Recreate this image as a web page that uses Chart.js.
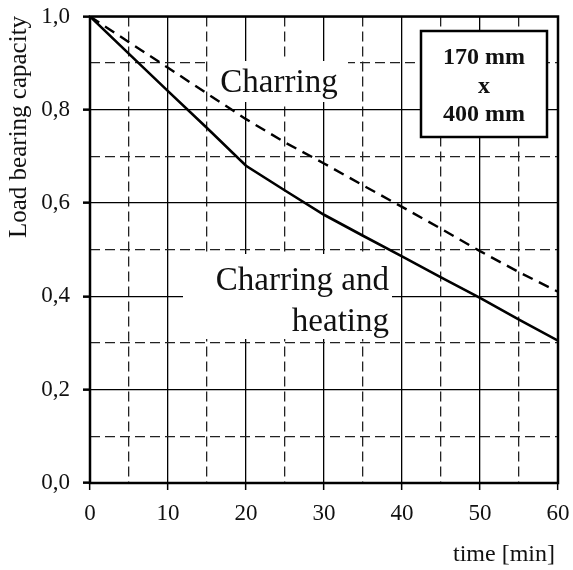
<!DOCTYPE html>
<html>
<head>
<meta charset="utf-8">
<script src="https://cdn.jsdelivr.net/npm/chart.js@4"></script>
<style>
  html, body { margin: 0; padding: 0; background: #fff; }
  #wrap { width: 573px; height: 570px; }
</style>
</head>
<body>
<div id="wrap"><canvas id="lbc"></canvas></div>
<script>
// data
const time = [0, 5, 10, 15, 20, 25, 30, 35, 40, 45, 50, 55, 60];
const charring = [1.0, 0.945, 0.89, 0.835, 0.78, 0.73, 0.685, 0.638, 0.592, 0.545, 0.497, 0.452, 0.41];
const charringHeating = [1.0, 0.92, 0.84, 0.761, 0.68, 0.627, 0.575, 0.53, 0.486, 0.441, 0.397, 0.35, 0.305];
const xTicks = [0, 10, 20, 30, 40, 50, 60];
const yTickLabels = ['0,0', '0,2', '0,4', '0,6', '0,8', '1,0'];
const sectionLines = ['170 mm', 'x', '400 mm'];

const serif = "'Liberation Serif', 'Times New Roman', serif";

function pts(ys) {
    var out = [];
    for (var i = 0; i < time.length; i++) {
        out.push({ x: time[i], y: ys[i] });
    }
    return out;
}

function isMajorX(v) { return Math.round(v) % 10 === 0; }
function isMajorY(v) { return Math.round(v * 10) % 2 === 0; }

// labels, white boxes, frame
const annotations = {
    id: 'annotations',
    beforeDatasetsDraw(chart) {
        const ctx = chart.ctx;
        ctx.save();
        ctx.fillStyle = '#fff';
        ctx.fillRect(210, 61, 138, 41);
        ctx.fillRect(183, 254, 209, 85);

        ctx.fillStyle = '#111';
        ctx.font = '33px ' + serif;
        ctx.textBaseline = 'alphabetic';
        ctx.textAlign = 'center';
        ctx.fillText('Charring', 279, 92);
        ctx.textAlign = 'right';
        ctx.fillText('Charring and', 389, 290);
        ctx.fillText('heating', 389, 331);
        ctx.restore();
    },
    afterDraw(chart) {
        const ctx = chart.ctx;
        const a = chart.chartArea;
        ctx.save();
        ctx.strokeStyle = '#000';
        ctx.lineWidth = 2.5;
        ctx.strokeRect(a.left, a.top, a.right - a.left, a.bottom - a.top);

        // section box
        ctx.fillStyle = '#fff';
        ctx.fillRect(421, 31, 126, 106);
        ctx.strokeRect(421, 31, 126, 106);
        ctx.fillStyle = '#111';
        ctx.font = 'bold 24px ' + serif;
        ctx.textAlign = 'center';
        ctx.textBaseline = 'alphabetic';
        ctx.fillText(sectionLines[0], 484, 64);
        ctx.fillText(sectionLines[1], 484, 93);
        ctx.fillText(sectionLines[2], 484, 121);

        // axis titles
        ctx.font = '24px ' + serif;
        ctx.textAlign = 'right';
        ctx.fillText('time [min]', 555, 561);
        ctx.translate(26, 238);
        ctx.rotate(-Math.PI / 2);
        ctx.textAlign = 'left';
        ctx.font = '25px ' + serif;
        ctx.fillText('Load bearing capacity', 0, 0);
        ctx.restore();
    }
};

const ctxLbc = document.getElementById('lbc').getContext('2d');
const lbcChart = new Chart(ctxLbc, {
    type: 'line',
    data: {
        datasets: [{
            label: 'Charring',
            data: pts(charring),
            borderColor: '#000',
            borderWidth: 2.4,
            borderDash: [11, 7],
            pointRadius: 0,
            tension: 0,
            fill: false
        }, {
            label: 'Charring and heating',
            data: pts(charringHeating),
            borderColor: '#000',
            borderWidth: 2.6,
            pointRadius: 0,
            tension: 0,
            fill: false
        }]
    },
    options: {
        responsive: true,
        maintainAspectRatio: false,
        animation: false,
        events: [],
        layout: { padding: { top: 16.5, right: 15, left: 0, bottom: 0 } },
        plugins: {
            legend: { display: false },
            tooltip: { enabled: false }
        },
        scales: {
            x: {
                type: 'linear',
                min: 0,
                max: 60,
                afterFit: (s) => {
                    s.height = 87;
                    s.paddingLeft = 0;
                    s.paddingRight = 0;
                },
                ticks: {
                    stepSize: 5,
                    autoSkip: false,
                    maxRotation: 0,
                    padding: 10,
                    color: '#111',
                    font: { family: serif, size: 23 },
                    callback: (v) => xTicks.indexOf(v) >= 0 ? String(v) : ''
                },
                grid: {
                    color: (c) => isMajorX(c.tick.value) ? '#000' : '#222',
                    lineWidth: 1.3,
                    tickLength: 7,
                    tickWidth: 1.5,
                    tickColor: (c) => isMajorX(c.tick.value) ? '#000' : 'rgba(0,0,0,0)'
                },
                border: {
                    display: false,
                    dash: (c) => isMajorX(c.tick.value) ? [] : [10, 5]
                }
            },
            y: {
                type: 'linear',
                min: 0,
                max: 1,
                afterFit: (s) => {
                    s.width = 90;
                    s.paddingTop = 0;
                    s.paddingBottom = 0;
                },
                ticks: {
                    stepSize: 0.1,
                    autoSkip: false,
                    padding: 13,
                    color: '#111',
                    font: { family: serif, size: 23 },
                    callback: (v) => isMajorY(v) ? yTickLabels[Math.round(v * 5)] : ''
                },
                grid: {
                    color: (c) => isMajorY(c.tick.value) ? '#000' : '#222',
                    lineWidth: 1.3,
                    tickLength: 7,
                    tickWidth: 2.5,
                    tickColor: (c) => isMajorY(c.tick.value) ? '#000' : 'rgba(0,0,0,0)'
                },
                border: {
                    display: false,
                    dash: (c) => isMajorY(c.tick.value) ? [] : [10, 5]
                }
            }
        }
    },
    plugins: [annotations]
});
</script>
</body>
</html>
